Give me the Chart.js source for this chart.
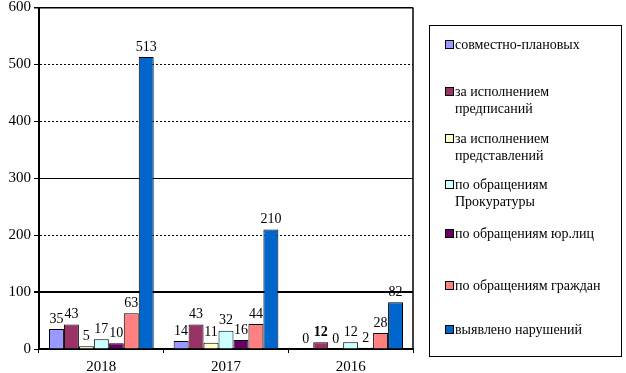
<!DOCTYPE html>
<html>
<head>
<meta charset="utf-8">
<script src="https://cdn.jsdelivr.net/npm/chart.js@4/dist/chart.umd.min.js"></script>
<style>
  html, body { margin: 0; padding: 0; background: #fff; }
  #wrap { position: relative; width: 626px; height: 373px; overflow: hidden; }
  canvas { position: absolute; left: 0; top: 0; }
  #legend { position: absolute; left: 429px; top: 25px; width: 193px; height: 332px; border: 1px solid #000; box-sizing: border-box; font-family: "Liberation Serif", "Times New Roman", serif; font-size: 14px; color: #000; }
  .item { position: absolute; left: 15px; line-height: 17px; white-space: nowrap; }
  .sw { position: absolute; left: 0; top: 4px; width: 7px; height: 7px; border: 1px solid #000; }
  .txt { position: absolute; left: 10px; top: 0; }
</style>
</head>
<body>
<div id="wrap">
  <canvas id="c" width="626" height="373"></canvas>
  <div id="legend"></div>
</div>
<script>
const categories = ["2018", "2017", "2016"];
const seriesNames = [
  ["совместно-плановых"],
  ["за исполнением", "предписаний"],
  ["за исполнением", "представлений"],
  ["по обращениям", "Прокуратуры"],
  ["по обращениям юр.лиц"],
  ["по обращениям граждан"],
  ["выявлено нарушений"]
];
const sovmestno = [35, 14, 0];
const predpisaniy = [43, 43, 12];
const predstavleniy = [5, 11, 0];
const prokuratury = [17, 32, 12];
const yurLic = [10, 16, 2];
const grazhdan = [63, 44, 28];
const narusheniy = [513, 210, 82];
const seriesValues = [sovmestno, predpisaniy, predstavleniy, prokuratury, yurLic, grazhdan, narusheniy];
const colors = ["#9999FF", "#993366", "#FFFFCC", "#CCFFFF", "#660066", "#FF8080", "#0066CC"];
const yTicks = [0, 100, 200, 300, 400, 500, 600];
const dottedGrid = [200, 400, 500];
const boldLabels = [[1, 2]]; // [series, category]

const serif = "'Liberation Serif', 'Times New Roman', serif";

// HTML legend
const legendTops = [10, 57, 104, 150, 199, 251, 295];
const legend = document.getElementById('legend');
seriesNames.forEach((lines, i) => {
  const it = document.createElement('div');
  it.className = 'item';
  it.style.top = legendTops[i] + 'px';
  const sw = document.createElement('div');
  sw.className = 'sw';
  sw.style.background = colors[i];
  const tx = document.createElement('div');
  tx.className = 'txt';
  tx.innerHTML = lines.join('<br>');
  it.appendChild(sw);
  it.appendChild(tx);
  legend.appendChild(it);
});

const labelPlugin = {
  id: 'valueLabels',
  afterDatasetsDraw(chart) {
    const ctx = chart.ctx;
    ctx.save();
    ctx.fillStyle = '#000';
    ctx.textAlign = 'center';
    ctx.textBaseline = 'bottom';
    chart.data.datasets.forEach((ds, i) => {
      const meta = chart.getDatasetMeta(i);
      meta.data.forEach((bar, j) => {
        const bold = boldLabels.some(b => b[0] === i && b[1] === j);
        ctx.font = (bold ? 'bold ' : '') + '14px ' + serif;
        ctx.fillText(String(ds.data[j]), bar.x, bar.y - 3);
      });
    });
    ctx.restore();
  }
};

const framePlugin = {
  id: 'frame',
  afterDraw(chart) {
    const a = chart.chartArea;
    const ctx = chart.ctx;
    ctx.save();
    ctx.strokeStyle = '#000';
    ctx.lineWidth = 1.5;
    ctx.beginPath();
    ctx.moveTo(a.right, a.top);
    ctx.lineTo(a.right, a.bottom);
    ctx.stroke();
    ctx.restore();
  }
};

new Chart(document.getElementById('c'), {
  type: 'bar',
  data: {
    labels: categories,
    datasets: seriesValues.map((vals, i) => ({
      label: seriesNames[i].join(' '),
      data: vals,
      backgroundColor: colors[i],
      borderColor: '#000',
      borderWidth: 1,
      categoryPercentage: 0.84,
      barPercentage: 1.0
    }))
  },
  options: {
    responsive: false,
    devicePixelRatio: 1,
    animation: false,
    layout: { padding: { top: 6, right: 213, left: 0, bottom: 0 } },
    plugins: { legend: { display: false }, tooltip: { enabled: false } },
    scales: {
      x: {
        grid: { drawOnChartArea: false, color: '#000', tickLength: 4, offset: true },
        border: { display: true, color: '#000', width: 1.5 },
        ticks: { color: '#000', font: { family: serif, size: 15 }, padding: 5 },
        afterFit: s => { s.height = 24; }
      },
      y: {
        min: 0, max: 600,
        afterBuildTicks: s => { s.ticks = yTicks.map(v => ({ value: v })); },
        grid: {
          color: '#000',
          tickLength: 5,
          lineWidth: c => (c.tick && c.tick.value === 100) ? 2 : (c.tick && c.tick.value === 600 ? 1.5 : 1)
        },
        border: {
          display: true, color: '#000', width: 2,
          dash: c => (c.tick && dottedGrid.includes(c.tick.value)) ? [2, 2] : []
        },
        ticks: { color: '#000', font: { family: serif, size: 15, lineHeight: 0.6 }, padding: 3 },
        afterFit: s => { s.width = 39; }
      }
    }
  },
  plugins: [labelPlugin, framePlugin]
});
</script>
</body>
</html>
